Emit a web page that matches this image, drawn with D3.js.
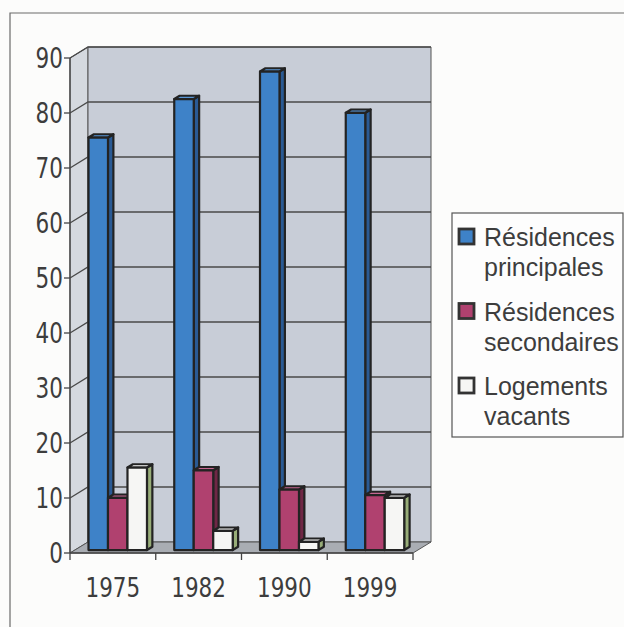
<!DOCTYPE html>
<html>
<head>
<meta charset="utf-8">
<script src="https://cdn.jsdelivr.net/npm/d3@7"></script>
<style>
  html, body { margin: 0; padding: 0; background: #fcfcfb; }
  svg { display: block; }
</style>
</head>
<body>
<svg id="chart" width="624" height="627"></svg>
<script>
// Housing stock breakdown (%) by census year
const years = ["1975", "1982", "1990", "1999"];
const seriesNames = ["Résidences principales", "Résidences secondaires", "Logements vacants"];
const principales = [75, 82, 87, 79.5];
const secondaires = [9.5, 14.5, 11, 10];
const vacants = [15, 3.5, 1.5, 9.5];
const yTicks = [0, 10, 20, 30, 40, 50, 60, 70, 80, 90];
const legendLines = [["Résidences", "principales"], ["Résidences", "secondaires"], ["Logements", "vacants"]];

const seriesValues = [principales, secondaires, vacants];
const palette = [
  { front: "#3e82c8", side: "#2a5a94", top: "#5a97d6" },
  { front: "#b0416f", side: "#6f2745", top: "#c56690" },
  { front: "#f6f6f4", side: "#98ad78", top: "#ffffff" }
];

const svg = d3.select("#chart");
const ink = "#3d3d3d";
const tickFont = "'DejaVu Sans Condensed', 'DejaVu Sans', sans-serif";

// outer frame
svg.append("path")
  .attr("d", "M10,627 L10,13 L624,13")
  .attr("fill", "none").attr("stroke", "#6a6a6a").attr("stroke-width", 1.2);

// 3D projection: depth 0 = front plane, depth 1 = back wall
const DX = 18, DY = -11;
const x = d3.scaleBand().domain(years).range([70, 413]).paddingInner(0).paddingOuter(0);
const xs = d3.scaleBand().domain(d3.range(seriesNames.length)).range([0, x.bandwidth()])
  .paddingInner(0).paddingOuter(0.7);
const y = d3.scaleLinear().domain([0, 90]).range([553, 58]);
const P = (px, py, d) => [px + DX * d, py + DY * d];
const line = d3.line();

const x0 = x.range()[0], x1 = x.range()[1];
const yTop = y(90), yBot = y(0);

// side wall
svg.append("path")
  .attr("d", line([P(x0, yBot, 0), P(x0, yTop, 0), P(x0, yTop, 1), P(x0, yBot, 1)]) + "Z")
  .attr("fill", "#d5d9df").attr("stroke", "#555").attr("stroke-width", 1);
// back wall
svg.append("path")
  .attr("d", line([P(x0, yBot, 1), P(x0, yTop, 1), P(x1, yTop, 1), P(x1, yBot, 1)]) + "Z")
  .attr("fill", "#c8cdd7").attr("stroke", "#555").attr("stroke-width", 1);
// floor
svg.append("path")
  .attr("d", line([P(x0, yBot, 0), P(x0, yBot, 1), P(x1, yBot, 1), P(x1, yBot, 0)]) + "Z")
  .attr("fill", "#a9adb3").attr("stroke", "#555").attr("stroke-width", 1);

// gridlines on side and back walls
yTicks.filter(t => t > 0).forEach(t => {
  svg.append("path")
    .attr("d", line([P(x0, y(t), 0), P(x0, y(t), 1), P(x1, y(t), 1)]))
    .attr("fill", "none").attr("stroke", "#4a4a4a").attr("stroke-width", 1.3);
});

// value axis
svg.append("line")
  .attr("x1", x0).attr("x2", x0).attr("y1", yTop).attr("y2", yBot)
  .attr("stroke", "#444").attr("stroke-width", 1.3);
yTicks.forEach(t => {
  svg.append("line").attr("x1", x0 - 6).attr("x2", x0).attr("y1", y(t)).attr("y2", y(t))
    .attr("stroke", "#444").attr("stroke-width", 1.3);
  svg.append("text")
    .attr("transform", `translate(${x0 - 7},${y(t)}) scale(0.87,1)`)
    .attr("dy", "0.36em")
    .attr("text-anchor", "end")
    .attr("font-family", tickFont).attr("font-size", 27.5)
    .attr("fill", ink).text(t);
});

// category axis
svg.append("line").attr("x1", x0).attr("x2", x1).attr("y1", yBot).attr("y2", yBot)
  .attr("stroke", "#444").attr("stroke-width", 1.3);
[...years.map(c => x(c)), x1].forEach(px => {
  svg.append("line").attr("x1", px).attr("x2", px).attr("y1", yBot).attr("y2", yBot + 7)
    .attr("stroke", "#444").attr("stroke-width", 1.3);
});
years.forEach(c => {
  svg.append("text")
    .attr("transform", `translate(${x(c) + x.bandwidth() / 2},597) scale(0.92,1)`)
    .attr("text-anchor", "middle")
    .attr("font-family", tickFont).attr("font-size", 26)
    .attr("fill", ink).text(c);
});

// 3D columns
const dFront = 0.27, dBack = 0.57;
const bars = svg.append("g").attr("stroke", "#232323").attr("stroke-width", 2.2)
  .attr("stroke-linejoin", "round");
years.forEach((c, ci) => {
  seriesValues.forEach((vals, si) => {
    const v = vals[ci];
    const l = x(c) + xs(si), r = l + xs.bandwidth();
    const t = y(v), b = y(0);
    const col = palette[si];
    // right side face
    bars.append("path")
      .attr("d", line([P(r, b, dFront), P(r, t, dFront), P(r, t, dBack), P(r, b, dBack)]) + "Z")
      .attr("fill", col.side);
    // top face
    bars.append("path")
      .attr("d", line([P(l, t, dFront), P(l, t, dBack), P(r, t, dBack), P(r, t, dFront)]) + "Z")
      .attr("fill", col.top);
    // front face
    bars.append("path")
      .attr("d", line([P(l, b, dFront), P(l, t, dFront), P(r, t, dFront), P(r, b, dFront)]) + "Z")
      .attr("fill", col.front);
  });
});

// legend
const lg = svg.append("g");
lg.append("rect").attr("x", 452).attr("y", 213).attr("width", 171).attr("height", 224)
  .attr("fill", "#fdfdfd").attr("stroke", "#555").attr("stroke-width", 1.2);
legendLines.forEach((lines, i) => {
  const top = 229 + i * 74.5;
  lg.append("rect").attr("x", 459).attr("y", top).attr("width", 15).attr("height", 15)
    .attr("fill", palette[i].front).attr("stroke", "#333").attr("stroke-width", 2.8);
  lines.forEach((s, k) => {
    lg.append("text")
      .attr("x", 484).attr("y", top + 17 + k * 30)
      .attr("font-family", "'Liberation Sans', Arial, sans-serif")
      .attr("font-size", 25).attr("fill", ink).text(s);
  });
});
</script>
</body>
</html>
